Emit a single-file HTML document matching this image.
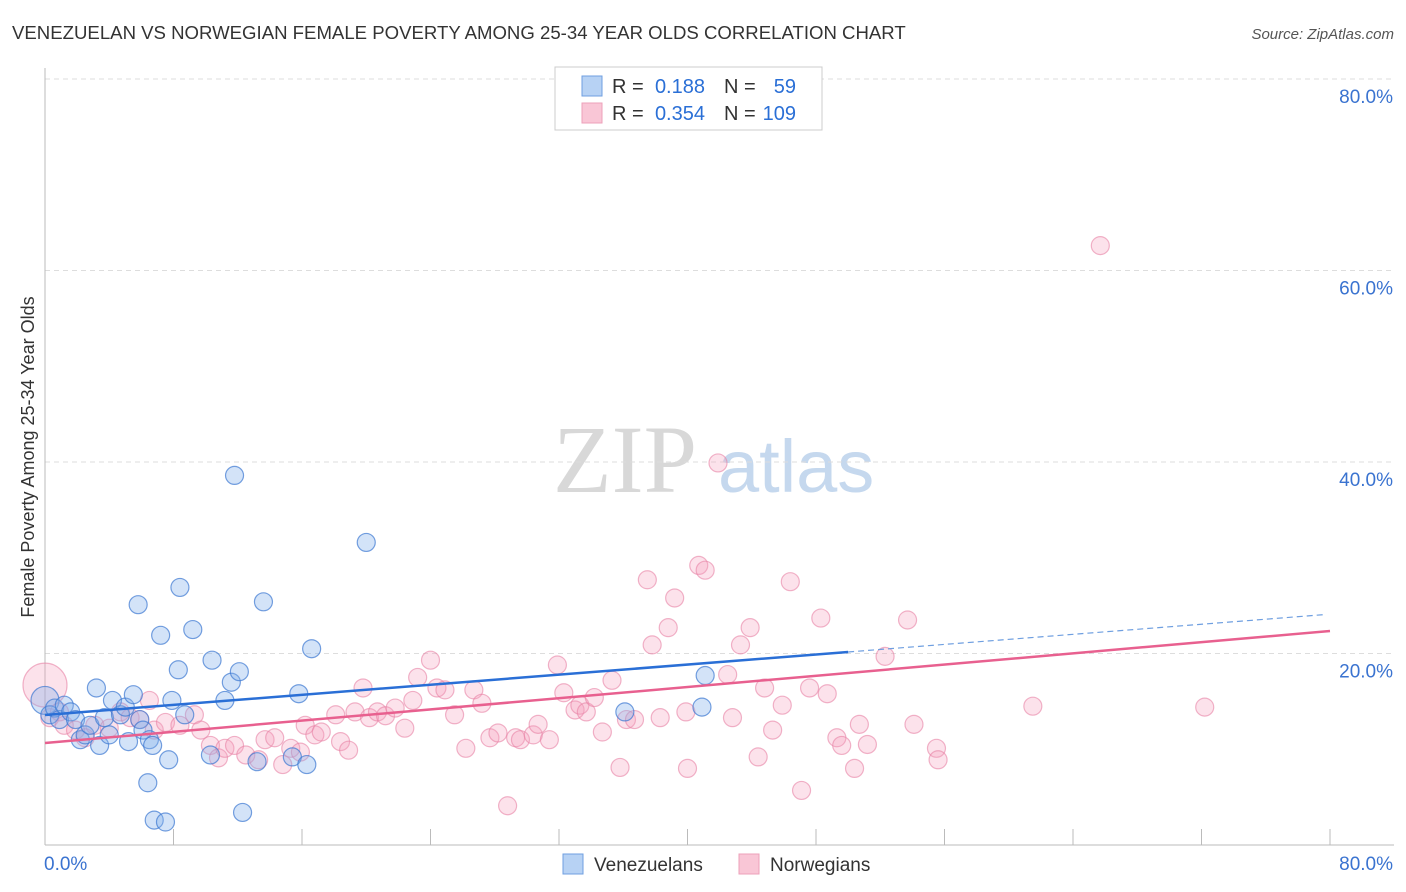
<!DOCTYPE html>
<html><head><meta charset="utf-8"><style>
body{margin:0;background:#fff;font-family:"Liberation Sans",sans-serif;}
svg{display:block}
</style></head><body>
<svg id="chart" width="1406" height="892" xmlns="http://www.w3.org/2000/svg">
<text x="12" y="39" font-size="18.6" fill="#333">VENEZUELAN VS NORWEGIAN FEMALE POVERTY AMONG 25-34 YEAR OLDS CORRELATION CHART</text>
<text x="1394" y="39" font-size="15" fill="#555" font-style="italic" text-anchor="end">Source: ZipAtlas.com</text>
<g>
<text x="553" y="492" font-size="96" fill="#d8d8d8" font-family="Liberation Serif,serif">ZIP</text>
<text x="718" y="492" font-size="74" fill="#c5d8ee">atlas</text>
</g>
<g id="grid"></g>
<g id="axes"></g>
<g id="pts"></g>
<g id="lines"></g>
<text transform="translate(34,457) rotate(-90)" font-size="18" fill="#333" text-anchor="middle">Female Poverty Among 25-34 Year Olds</text>
<g>
<rect x="555" y="67" width="267" height="63" fill="#fff" stroke="#ccc"/>
<rect x="582" y="76" width="20" height="20" fill="#b7d2f4" stroke="#6f9fe0"/>
<rect x="582" y="103" width="20" height="20" fill="#f9c6d6" stroke="#eda0ba"/>
<text x="612" y="93" font-size="20" fill="#333">R =</text>
<text x="705" y="93" font-size="20" fill="#2a6fd6" text-anchor="end">0.188</text>
<text x="724" y="93" font-size="20" fill="#333">N =</text>
<text x="796" y="93" font-size="20" fill="#2a6fd6" text-anchor="end">59</text>
<text x="612" y="120" font-size="20" fill="#333">R =</text>
<text x="705" y="120" font-size="20" fill="#2a6fd6" text-anchor="end">0.354</text>
<text x="724" y="120" font-size="20" fill="#333">N =</text>
<text x="796" y="120" font-size="20" fill="#2a6fd6" text-anchor="end">109</text>
</g>
<g>
<rect x="563" y="854" width="20" height="20" fill="#b7d2f4" stroke="#6f9fe0"/>
<text x="594" y="871" font-size="19" fill="#333">Venezuelans</text>
<rect x="739" y="854" width="20" height="20" fill="#f9c6d6" stroke="#eda0ba"/>
<text x="770" y="871" font-size="19" fill="#333">Norwegians</text>
</g>
</svg>
<script>
const yTicks=[20,40,60,80];
const xTickLabels=["0.0%","80.0%"];
const blueX=[0,0.3,0.6,0.9,1.2,1.6,1.9,2.2,2.5,2.8,3.2,3.4,3.7,4.0,4.2,4.7,5.0,5.2,5.5,5.8,5.9,6.1,6.4,6.5,6.7,6.8,7.2,7.5,7.7,7.9,8.3,8.4,8.7,9.2,10.3,10.4,11.2,11.6,11.8,12.1,12.3,13.2,13.6,15.4,15.8,16.3,16.6,20.0,36.1,41.1,40.9];
const blueY=[15.1,13.6,14.3,13.1,14.6,13.9,13.1,11.0,11.5,12.5,16.4,10.4,13.3,11.5,15.1,13.6,14.4,10.8,15.7,25.1,13.1,12.0,6.5,11.0,10.4,2.6,21.9,2.4,8.9,15.1,18.3,26.9,13.6,22.5,9.4,19.3,15.1,17.0,38.6,18.1,3.4,8.7,25.4,9.2,15.8,8.4,20.5,31.6,13.9,17.7,14.4];
const pinkX=[0,0.3,0.9,1.2,1.9,2.5,3.1,4.0,4.7,5.3,5.9,6.5,6.8,7.5,8.4,9.3,9.7,10.3,10.8,11.2,11.8,12.5,13.3,13.7,14.3,14.8,15.3,15.9,16.2,16.8,17.2,18.1,18.4,18.9,19.8,19.3,20.2,20.7,21.2,21.8,22.4,22.9,23.2,24.0,24.4,24.9,25.5,26.2,26.7,27.2,27.7,28.2,28.8,29.3,29.6,30.4,30.7,31.4,31.9,32.3,33.0,33.3,33.7,34.2,34.7,35.3,35.8,36.2,36.7,37.5,37.8,38.3,38.8,39.2,40.0,39.9,40.7,41.1,41.9,42.5,42.8,43.3,43.9,44.4,44.8,45.3,45.9,46.4,47.1,47.6,48.3,48.7,49.3,49.6,50.4,50.7,51.2,52.3,53.7,54.1,55.5,55.6,61.5,65.7,72.2];
const pinkY=[16.7,13.3,13.9,12.5,12.0,11.2,12.5,12.2,13.9,13.3,13.1,15.1,12.0,12.8,12.5,13.6,12.0,10.4,9.1,10.1,10.4,9.4,8.9,11.0,11.2,8.4,10.1,9.7,12.5,11.5,11.8,13.6,10.8,9.9,16.4,13.9,13.3,13.9,13.5,14.3,12.2,15.1,17.5,19.3,16.4,16.2,13.6,10.1,16.2,14.8,11.2,11.7,4.1,11.2,11.0,11.5,12.6,11.0,18.8,15.9,14.1,14.6,13.9,15.4,11.8,17.2,8.1,13.1,13.1,27.7,20.9,13.3,22.7,25.8,8.0,13.9,29.2,28.7,39.9,17.8,13.3,20.9,22.7,9.2,16.4,12.0,14.6,27.5,5.7,16.4,23.7,15.8,11.2,10.4,8.0,12.6,10.5,19.7,23.5,12.6,10.1,8.9,14.5,62.6,14.4];
const blueTrend=[13.58,0.1316];
const pinkTrend=[10.65,0.1463];
const NS="http://www.w3.org/2000/svg";
const X=v=>45+v/80*1285, Y=v=>845-v/20*191.5;
function mk(t,a,p){const e=document.createElementNS(NS,t);for(const k in a)e.setAttribute(k,a[k]);p.appendChild(e);return e;}
const grid=document.getElementById('grid'),axes=document.getElementById('axes');
yTicks.forEach(t=>{
 const l=mk('line',{x1:45,x2:1394,y1:Y(t),y2:Y(t),stroke:'#ddd','stroke-dasharray':'5,4'},grid);
 
 
 const tx=mk('text',{x:1393,y:Y(t)+24,'font-size':19,fill:'#3a73d0','text-anchor':'end'},axes);
 tx.textContent=t.toFixed(1)+'%';
 
 
});
mk('line',{x1:45,x2:45,y1:68,y2:845,stroke:'#bbb'},axes);
mk('line',{x1:45,x2:1394,y1:845,y2:845,stroke:'#bbb'},axes);
for(let i=1;i<=10;i++){const l=mk('line',{x1:X(i*8),x2:X(i*8),y1:829,y2:845,stroke:'#bbb'},axes);
 
 }
const xl0=mk('text',{x:44,y:870,'font-size':19,fill:'#3a73d0'},axes);xl0.textContent=xTickLabels[0];


const xl1=mk('text',{x:1393,y:870,'font-size':19,fill:'#3a73d0','text-anchor':'end'},axes);xl1.textContent=xTickLabels[1];


const pts=document.getElementById('pts');
pinkX.forEach((x,i)=>{const c=mk('circle',{cx:X(x),cy:Y(pinkY[i]),r:i==0?22:9,fill:'rgba(244,160,188,0.3)',stroke:'rgba(232,130,165,0.6)','stroke-width':1.2},pts);
 
 });
blueX.forEach((x,i)=>{const c=mk('circle',{cx:X(x),cy:Y(blueY[i]),r:i==0?14:9,fill:'rgba(130,175,235,0.35)',stroke:'rgba(60,120,210,0.7)','stroke-width':1.2},pts);
 
 });
const lines=document.getElementById('lines');
const bl=mk('line',{x1:X(0),y1:Y(blueTrend[0]),x2:X(50),y2:Y(blueTrend[0]+50*blueTrend[1]),stroke:'#2a6fd6','stroke-width':2.5},lines);


const bd=mk('line',{x1:X(50),y1:Y(blueTrend[0]+50*blueTrend[1]),x2:X(79.7),y2:Y(blueTrend[0]+79.7*blueTrend[1]),stroke:'#6f9fe0','stroke-width':1.2,'stroke-dasharray':'6,4'},lines);


const pl=mk('line',{x1:X(0),y1:Y(pinkTrend[0]),x2:X(80),y2:Y(pinkTrend[0]+80*pinkTrend[1]),stroke:'#e8608f','stroke-width':2.5},lines);


</script>
</body></html>
